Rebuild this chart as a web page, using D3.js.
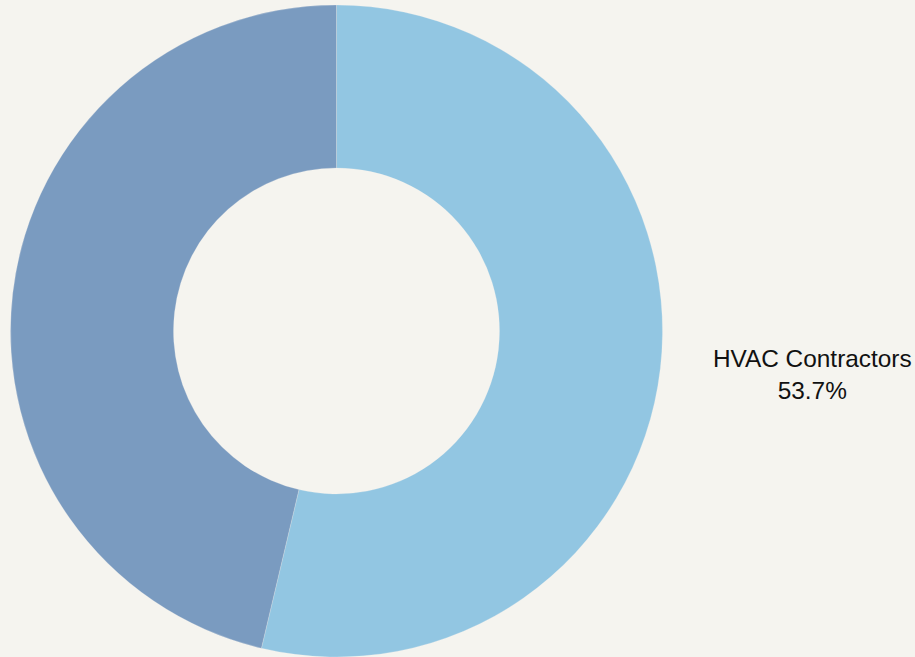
<!DOCTYPE html>
<html>
<head>
<meta charset="utf-8">
<script src="https://cdn.jsdelivr.net/npm/d3@7"></script>
<style>
body { margin: 0; overflow: hidden; background: #f5f4ef; }
text { font-family: "Liberation Sans", Arial, sans-serif; fill: #111; }
</style>
</head>
<body>
<svg width="915" height="657"></svg>
<script>
const categories = ['HVAC Contractors', 'Other'];
const shares = [53.7, 46.3];
const colors = ['#92c6e2', '#7a9bc0'];
const labelled = ['HVAC Contractors'];

const svg = d3.select('svg');
const cx = 336.5, cy = 331;
const outerR = 326, innerR = 163, labelR = 479;

const data = categories.map((c, i) => ({ name: c, value: shares[i], color: colors[i] }));

const pie = d3.pie().value(d => d.value).sort(null);
const arc = d3.arc().innerRadius(innerR).outerRadius(outerR);
const labelArc = d3.arc().innerRadius(labelR).outerRadius(labelR);

const g = svg.append('g').attr('transform', `translate(${cx},${cy})`);

const arcs = pie(data);

g.selectAll('path')
  .data(arcs)
  .enter().append('path')
  .attr('d', arc)
  .attr('fill', d => d.data.color)
  .attr('stroke', '#f5f4ef')
  .attr('stroke-opacity', 0.4)
  .attr('stroke-width', 0.6);

const lab = g.selectAll('.lab')
  .data(arcs.filter(d => labelled.includes(d.data.name)))
  .enter().append('text')
  .attr('class', 'lab')
  .attr('text-anchor', 'middle')
  .attr('font-size', 24.4)
  .attr('transform', d => {
    const [x, y] = labelArc.centroid(d);
    return `translate(${x},${y - 12})`;
  });

lab.append('tspan').attr('x', 0).attr('dy', '-0.3em').text(d => d.data.name);
lab.append('tspan').attr('x', 0).attr('dy', 32).text(d => d.data.value.toFixed(1) + '%');
</script>
</body>
</html>
